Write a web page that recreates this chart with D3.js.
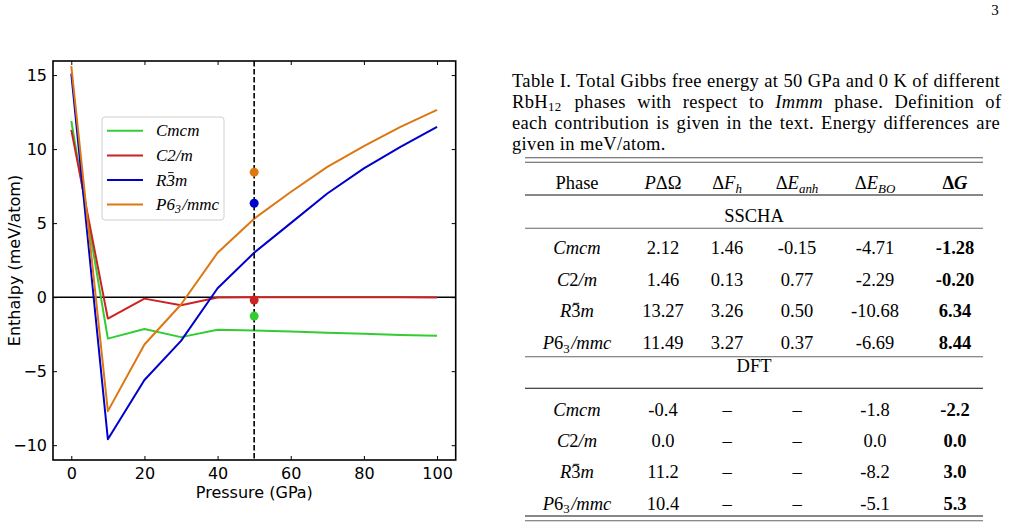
<!DOCTYPE html>
<html>
<head>
<meta charset="utf-8">
<script src="https://cdn.jsdelivr.net/npm/d3@7"></script>
<style>
  body { margin: 0; background: #fff; }
  svg { display: block; }
</style>
</head>
<body>
<svg id="page" width="1010" height="528"></svg>
<script>
// --- data ---
const pressures = [0, 10, 20, 30, 40, 50, 60, 70, 80, 90, 100];
const cmcm = [11.9, -2.8, -2.15, -2.7, -2.2, -2.25, -2.32, -2.4, -2.47, -2.55, -2.6];
const c2m  = [11.3, -1.45, -0.1, -0.55, -0.03, 0, 0, 0, 0, 0, -0.02];
const r3m  = [15.1, -9.6, -5.6, -2.95, 0.6, 3.0, 5.0, 7.0, 8.7, 10.15, 11.5];
const p63  = [15.6, -7.7, -3.2, -0.5, 3.0, 5.3, 7.1, 8.8, 10.2, 11.5, 12.65];
const sschaDeltaG = [-1.28, -0.20, 6.34, 8.44];   // dots at 50 GPa
const dotPressure = 50;
const xTicks = [0, 20, 40, 60, 80, 100];
const yTicks = [-10, -5, 0, 5, 10, 15];

// phase names as rich-text pieces
const phaseNames = [
  [{t: 'Cmcm', i: 1}],
  [{t: 'C', i: 1}, {t: '2'}, {t: '/m', i: 1}],
  [{t: 'R', i: 1}, {t: '3', bar: 1}, {t: 'm', i: 1}],
  [{t: 'P', i: 1}, {t: '6'}, {t: '3', sub: 1}, {t: '/mmc', i: 1}],
];
const seriesColors = ['#33cc33', '#cc2222', '#0000cc', '#dd7711'];
const seriesValues = [cmcm, c2m, r3m, p63];

// table
const tableHeader = [
  [{t: 'Phase'}],
  [{t: 'P', i: 1}, {t: 'ΔΩ'}],
  [{t: 'Δ'}, {t: 'F', i: 1}, {t: 'h', i: 1, sub: 1}],
  [{t: 'Δ'}, {t: 'E', i: 1}, {t: 'anh', i: 1, sub: 1}],
  [{t: 'Δ'}, {t: 'E', i: 1}, {t: 'BO', i: 1, sub: 1}],
  [{t: 'Δ', b: 1}, {t: 'G', b: 1, i: 1}],
];
const sschaRows = [
  ['2.12', '1.46', '-0.15', '-4.71', '-1.28'],
  ['1.46', '0.13', '0.77', '-2.29', '-0.20'],
  ['13.27', '3.26', '0.50', '-10.68', '6.34'],
  ['11.49', '3.27', '0.37', '-6.69', '8.44'],
];
const dftRows = [
  ['-0.4', '–', '–', '-1.8', '-2.2'],
  ['0.0', '–', '–', '0.0', '0.0'],
  ['11.2', '–', '–', '-8.2', '3.0'],
  ['10.4', '–', '–', '-5.1', '5.3'],
];
const captionLines = [
  [{t: 'Table I. Total Gibbs free energy at 50 GPa and 0 K of different'}],
  [{t: 'RbH'}, {t: '12', sub: 1}, {t: ' phases with respect to '}, {t: 'Immm', i: 1}, {t: ' phase. Definition of'}],
  [{t: 'each contribution is given in the text. Energy differences are'}],
  [{t: 'given in meV/atom.'}],
];

const svg = d3.select('#page');

// write pieces into a text element as tspans, then draw bars over flagged chars
function rich(text, parts, size, subShift = 0.2) {
  let charIdx = 0;
  const bars = [];
  let wasSub = false;
  parts.forEach(p => {
    const ts = text.append('tspan').text(p.t);
    if (p.i) ts.attr('font-style', 'italic');
    if (p.b) ts.attr('font-weight', 'bold');
    if (p.sub) {
      ts.attr('font-size', size * 0.7);
      if (!wasSub) ts.attr('dy', size * subShift);
    } else if (wasSub) {
      ts.attr('dy', -size * subShift).attr('dx', size * 0.08);
    }
    wasSub = !!p.sub;
    if (p.bar) bars.push(charIdx);
    charIdx += p.t.length;
  });
  const node = text.node();
  const baseY = +text.attr('y');
  bars.forEach(ci => {
    const x0 = node.getStartPositionOfChar(ci).x;
    const x1 = node.getEndPositionOfChar(ci).x;
    const w = x1 - x0;
    const by = baseY - size * 0.76;
    d3.select(node.parentNode).append('line')
      .attr('x1', x0 + w * 0.2).attr('x2', x0 + w * 0.85)
      .attr('y1', by).attr('y2', by)
      .attr('stroke', '#000').attr('stroke-width', 0.9);
  });
  return text;
}

// ================= chart =================
const frame = {left: 53, right: 455.7, top: 61, bottom: 460};
const x = d3.scaleLinear().domain([-5, 105.1]).range([frame.left, frame.right]);
const y = d3.scaleLinear().domain([-11, 15.95]).range([frame.bottom, frame.top]);

const chart = svg.append('g').attr('font-family', 'DejaVu Sans, sans-serif');

chart.append('clipPath').attr('id', 'plotclip')
  .append('rect')
  .attr('x', frame.left).attr('y', frame.top)
  .attr('width', frame.right - frame.left).attr('height', frame.bottom - frame.top);

const plot = chart.append('g').attr('clip-path', 'url(#plotclip)');

// zero line
plot.append('line')
  .attr('x1', frame.left).attr('x2', frame.right)
  .attr('y1', y(0)).attr('y2', y(0))
  .attr('stroke', '#000').attr('stroke-width', 1.5);

const line = d3.line().x((d, i) => x(pressures[i])).y(d => y(d));
seriesValues.forEach((vals, k) => {
  plot.append('path')
    .datum(vals)
    .attr('d', line)
    .attr('fill', 'none')
    .attr('stroke', seriesColors[k])
    .attr('stroke-width', 2)
    .attr('stroke-linejoin', 'round');
});

// dashed 50 GPa marker
plot.append('line')
  .attr('x1', x(dotPressure)).attr('x2', x(dotPressure))
  .attr('y1', frame.top).attr('y2', frame.bottom)
  .attr('stroke', '#000').attr('stroke-width', 1.6)
  .attr('stroke-dasharray', '5.5,2.5');

plot.selectAll('circle.dot')
  .data(sschaDeltaG)
  .join('circle')
  .attr('class', 'dot')
  .attr('cx', x(dotPressure))
  .attr('cy', d => y(d))
  .attr('r', 4.5)
  .attr('fill', (d, i) => seriesColors[i]);

// axes, ticks inward on all four sides
const tick = 4;
const styleAxis = g => {
  g.select('.domain').remove();
  g.selectAll('.tick line').attr('stroke', '#000').attr('stroke-width', 1);
  g.selectAll('.tick text').attr('fill', '#000');
};
chart.append('g')
  .attr('transform', `translate(0,${frame.bottom})`)
  .call(d3.axisBottom(x).tickValues(xTicks).tickSize(-tick).tickPadding(8).tickFormat(d3.format('d')))
  .attr('font-size', 16).attr('font-family', null)
  .call(styleAxis);
chart.append('g')
  .attr('transform', `translate(0,${frame.top})`)
  .call(d3.axisTop(x).tickValues(xTicks).tickSize(-tick).tickFormat(''))
  .call(styleAxis);
chart.append('g')
  .attr('transform', `translate(${frame.left},0)`)
  .call(d3.axisLeft(y).tickValues(yTicks).tickSize(-tick).tickPadding(6))
  .attr('font-size', 16).attr('font-family', null)
  .call(styleAxis);
chart.append('g')
  .attr('transform', `translate(${frame.right},0)`)
  .call(d3.axisRight(y).tickValues(yTicks).tickSize(-tick).tickFormat(''))
  .call(styleAxis);

chart.append('rect')
  .attr('x', frame.left).attr('y', frame.top)
  .attr('width', frame.right - frame.left).attr('height', frame.bottom - frame.top)
  .attr('fill', 'none').attr('stroke', '#000').attr('stroke-width', 1.6);

chart.append('text')
  .attr('x', (frame.left + frame.right) / 2).attr('y', 498)
  .attr('text-anchor', 'middle').attr('font-size', 16)
  .text('Pressure (GPa)');
chart.append('text')
  .attr('transform', `translate(20,${(frame.top + frame.bottom) / 2}) rotate(-90)`)
  .attr('text-anchor', 'middle').attr('font-size', 16)
  .text('Enthalpy (meV/atom)');

// legend
const legend = chart.append('g').attr('font-family', 'Liberation Serif, serif');
legend.append('rect')
  .attr('x', 102).attr('y', 117).attr('width', 122).attr('height', 103)
  .attr('rx', 3).attr('fill', '#fff').attr('fill-opacity', 0.85)
  .attr('stroke', '#d0d0d0').attr('stroke-width', 1);
const legendY = [130.7, 155.5, 180, 204.5];
phaseNames.forEach((parts, k) => {
  const g = legend.append('g');
  g.append('line')
    .attr('x1', 107).attr('x2', 143)
    .attr('y1', legendY[k]).attr('y2', legendY[k])
    .attr('stroke', seriesColors[k]).attr('stroke-width', 2);
  const t = g.append('text')
    .attr('x', 156).attr('y', legendY[k] + 5.5)
    .attr('font-size', 17).attr('font-style', 'italic');
  rich(t, parts, 17);
});

// ================= caption + table =================
const serif = 'Liberation Serif, DejaVu Serif, serif';
const doc = svg.append('g').attr('font-family', serif).attr('fill', '#000');

doc.append('text').attr('x', 995).attr('y', 15)
  .attr('text-anchor', 'middle').attr('font-size', 15).text('3');

const captionY = [86.5, 108, 129, 150];
const capSize = 18.5;
const capWidth = 488;
captionLines.forEach((parts, k) => {
  const t = doc.append('text').attr('x', 512).attr('y', captionY[k])
    .attr('font-size', capSize).attr('letter-spacing', 0.35);
  rich(t, parts, capSize, 0.14);
  if (k < captionLines.length - 1) {
    // justify through the gaps between words
    const natural = t.node().getComputedTextLength();
    const gaps = parts.map(p => p.t).join('').split(' ').length - 1;
    t.attr('word-spacing', (capWidth - natural) / gaps);
  }
});

const ruleX = [525, 983];
const rules = [
  {y: 157.7, c: '#555'}, {y: 162.3, c: '#555'},
  {y: 195, c: '#111'}, {y: 228.3, c: '#666'},
  {y: 356.7, c: '#666'}, {y: 388.3, c: '#111'},
  {y: 516, c: '#111'}, {y: 520.7, c: '#666'},
];
doc.selectAll('line.rule')
  .data(rules)
  .join('line')
  .attr('class', 'rule')
  .attr('x1', ruleX[0]).attr('x2', ruleX[1])
  .attr('y1', d => d.y).attr('y2', d => d.y)
  .attr('stroke', d => d.c).attr('stroke-width', 1.1);

const colX = [577, 663, 727, 797, 875, 955];
const fs = 18.5;
tableHeader.forEach((parts, j) => {
  const t = doc.append('text').attr('x', colX[j]).attr('y', 189)
    .attr('text-anchor', 'middle').attr('font-size', fs);
  rich(t, parts, fs);
});

const section = (label, labelY, rows, rowY) => {
  doc.append('text').attr('x', (ruleX[0] + ruleX[1]) / 2).attr('y', labelY)
    .attr('text-anchor', 'middle').attr('font-size', fs).text(label);
  rows.forEach((row, r) => {
    const t = doc.append('text').attr('x', colX[0]).attr('y', rowY[r])
      .attr('text-anchor', 'middle').attr('font-size', fs);
    rich(t, phaseNames[r], fs);
    row.forEach((v, j) => {
      doc.append('text').attr('x', colX[j + 1]).attr('y', rowY[r])
        .attr('text-anchor', 'middle').attr('font-size', fs)
        .attr('font-weight', j === 4 ? 'bold' : null)
        .text(v);
    });
  });
};
section('SSCHA', 222.4, sschaRows, [254, 285.7, 317.4, 349]);
section('DFT', 372.4, dftRows, [415.7, 447.4, 478.4, 509.7]);
</script>
</body>
</html>
